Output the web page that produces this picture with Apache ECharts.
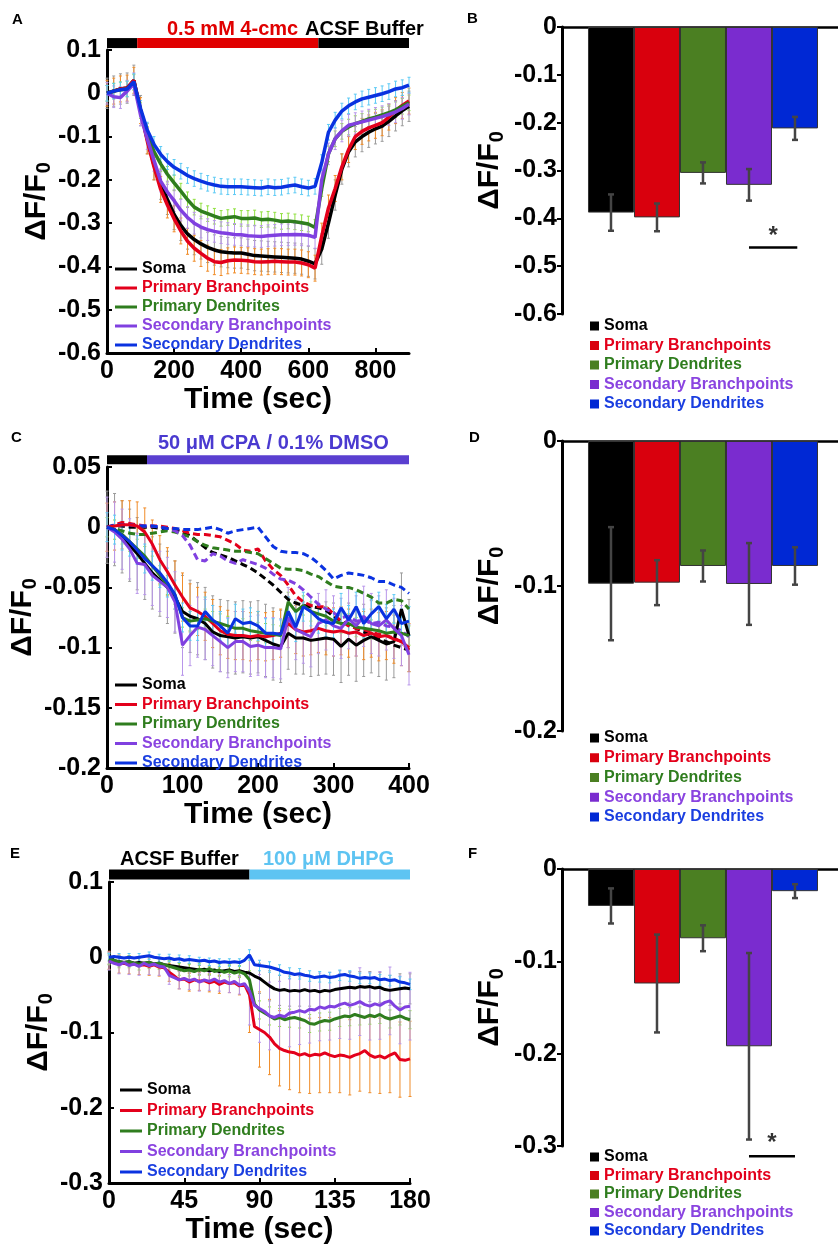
<!DOCTYPE html>
<html>
<head>
<meta charset="utf-8">
<script src="https://cdn.jsdelivr.net/npm/echarts@6/dist/echarts.min.js"></script>
<style>
html, body { margin: 0; background: #fff; }
#content { width: 838px; height: 1246px; }
</style>
</head>
<body>
<div id="content"></div>
<script>
// 区域名称
var regions = ["Soma", "Primary Branchpoints", "Primary Dendrites", "Secondary Branchpoints", "Secondary Dendrites"];

// A: 0.5 mM 4-cmc, 每 20 s 一个点
var somaA = [0, 0.005, 0.01, 0.012, 0.03, -0.04, -0.105, -0.165, -0.21, -0.245, -0.28, -0.305, -0.325, -0.338, -0.348, -0.356, -0.362, -0.366, -0.368, -0.369, -0.369, -0.372, -0.375, -0.376, -0.377, -0.378, -0.379, -0.38, -0.381, -0.383, -0.388, -0.394, -0.36, -0.3, -0.235, -0.175, -0.135, -0.112, -0.1, -0.09, -0.082, -0.076, -0.065, -0.052, -0.04, -0.03];
var pbA = [0, 0.005, 0.01, 0.012, 0.03, -0.04, -0.11, -0.17, -0.222, -0.258, -0.29, -0.318, -0.342, -0.358, -0.37, -0.381, -0.389, -0.391, -0.387, -0.385, -0.386, -0.387, -0.389, -0.39, -0.389, -0.388, -0.389, -0.39, -0.39, -0.392, -0.396, -0.404, -0.33, -0.265, -0.22, -0.17, -0.13, -0.1, -0.088, -0.08, -0.074, -0.068, -0.055, -0.04, -0.028, -0.018];
var pdA = [0, 0.005, 0.008, 0.01, 0.025, -0.04, -0.095, -0.135, -0.163, -0.187, -0.207, -0.226, -0.246, -0.263, -0.272, -0.278, -0.284, -0.289, -0.287, -0.285, -0.289, -0.289, -0.288, -0.292, -0.291, -0.293, -0.296, -0.295, -0.297, -0.299, -0.302, -0.31, -0.22, -0.14, -0.105, -0.088, -0.078, -0.07, -0.065, -0.059, -0.055, -0.05, -0.045, -0.038, -0.03, -0.022];
var sbA = [0, -0.008, -0.01, 0.005, 0.022, -0.05, -0.105, -0.155, -0.203, -0.228, -0.248, -0.27, -0.287, -0.3, -0.309, -0.315, -0.319, -0.322, -0.324, -0.326, -0.327, -0.329, -0.33, -0.331, -0.329, -0.328, -0.327, -0.327, -0.326, -0.327, -0.328, -0.333, -0.2, -0.14, -0.105, -0.087, -0.074, -0.07, -0.066, -0.062, -0.058, -0.054, -0.049, -0.043, -0.035, -0.025];
var sdA = [0, 0.005, 0.008, 0.01, 0.027, -0.035, -0.085, -0.118, -0.141, -0.158, -0.171, -0.18, -0.19, -0.197, -0.203, -0.208, -0.212, -0.215, -0.216, -0.216, -0.216, -0.217, -0.218, -0.219, -0.216, -0.218, -0.217, -0.214, -0.212, -0.216, -0.219, -0.215, -0.16, -0.09, -0.062, -0.041, -0.029, -0.02, -0.013, -0.009, -0.005, -0.001, 0.004, 0.01, 0.013, 0.019];
var semA = [0.035, 0.03, 0.018, 0.025, 0.018];

// C: CPA (实线) 与 DMSO (虚线), 每 10 s 一个点
var somaC = [0, -0.002, -0.008, -0.015, -0.022, -0.03, -0.038, -0.044, -0.05, -0.058, -0.07, -0.074, -0.076, -0.08, -0.087, -0.09, -0.091, -0.092, -0.091, -0.092, -0.091, -0.094, -0.097, -0.099, -0.088, -0.092, -0.092, -0.094, -0.093, -0.092, -0.093, -0.099, -0.093, -0.098, -0.094, -0.091, -0.094, -0.097, -0.095, -0.068, -0.09];
var pbC = [0, 0.001, 0.002, 0.002, 0.001, -0.004, -0.014, -0.027, -0.037, -0.048, -0.058, -0.067, -0.07, -0.074, -0.08, -0.086, -0.089, -0.09, -0.09, -0.091, -0.09, -0.091, -0.09, -0.088, -0.08, -0.085, -0.087, -0.086, -0.084, -0.086, -0.087, -0.086, -0.088, -0.087, -0.09, -0.088, -0.091, -0.09, -0.093, -0.095, -0.1];
var pdC = [0, -0.002, -0.006, -0.012, -0.018, -0.024, -0.032, -0.04, -0.048, -0.056, -0.075, -0.078, -0.077, -0.076, -0.078, -0.08, -0.082, -0.084, -0.084, -0.086, -0.087, -0.088, -0.089, -0.09, -0.062, -0.07, -0.065, -0.07, -0.072, -0.074, -0.078, -0.08, -0.08, -0.083, -0.084, -0.085, -0.086, -0.088, -0.087, -0.088, -0.09];
var sbC = [0, -0.004, -0.01, -0.018, -0.03, -0.031, -0.04, -0.045, -0.05, -0.062, -0.098, -0.09, -0.083, -0.085, -0.09, -0.095, -0.1, -0.095, -0.095, -0.099, -0.098, -0.1, -0.1, -0.101, -0.075, -0.085, -0.088, -0.091, -0.08, -0.077, -0.082, -0.084, -0.076, -0.082, -0.074, -0.08, -0.082, -0.077, -0.084, -0.09, -0.106];
var sdC = [0, -0.002, -0.007, -0.012, -0.019, -0.026, -0.032, -0.038, -0.046, -0.056, -0.075, -0.082, -0.082, -0.07, -0.077, -0.082, -0.088, -0.076, -0.08, -0.079, -0.082, -0.088, -0.088, -0.089, -0.07, -0.083, -0.066, -0.07, -0.076, -0.079, -0.08, -0.067, -0.077, -0.066, -0.08, -0.072, -0.066, -0.076, -0.068, -0.08, -0.078];
var somaCd = [0, 0.001, 0.001, 0, 0, 0, 0, -0.001, -0.001, -0.002, -0.004, -0.007, -0.012, -0.017, -0.021, -0.023, -0.025, -0.028, -0.031, -0.034, -0.038, -0.043, -0.048, -0.054, -0.06, -0.063, -0.065, -0.066, -0.067, -0.069, -0.074, -0.078, -0.081, -0.084, -0.087, -0.09, -0.093, -0.095, -0.098, -0.1, -0.102];
var pbCd = [0, 0.002, 0.004, 0.003, 0.002, 0.001, 0.001, 0.001, 0, -0.001, -0.003, -0.005, -0.006, -0.006, -0.007, -0.008, -0.011, -0.014, -0.019, -0.02, -0.018, -0.028, -0.035, -0.04, -0.048, -0.057, -0.062, -0.065, -0.066, -0.066, -0.072, -0.078, -0.082, -0.084, -0.085, -0.087, -0.089, -0.09, -0.092, -0.095, -0.102];
var pdCd = [0, -0.001, -0.003, -0.005, -0.006, -0.006, -0.005, -0.004, -0.003, -0.004, -0.006, -0.008, -0.012, -0.015, -0.017, -0.018, -0.019, -0.02, -0.02, -0.021, -0.022, -0.026, -0.03, -0.034, -0.035, -0.035, -0.036, -0.039, -0.041, -0.045, -0.049, -0.05, -0.05, -0.052, -0.055, -0.058, -0.063, -0.063, -0.06, -0.061, -0.068];
var sbCd = [0, 0.001, 0.002, 0.002, 0.001, 0.001, 0.001, 0, -0.001, -0.003, -0.007, -0.015, -0.027, -0.028, -0.022, -0.024, -0.028, -0.03, -0.027, -0.029, -0.031, -0.034, -0.039, -0.043, -0.044, -0.047, -0.052, -0.058, -0.064, -0.068, -0.071, -0.075, -0.074, -0.078, -0.077, -0.08, -0.079, -0.082, -0.083, -0.086, -0.091];
var sdCd = [0, 0.002, 0.002, 0.002, 0.001, 0.001, 0.001, 0, -0.001, -0.001, -0.002, -0.002, -0.002, -0.001, 0, -0.002, -0.005, -0.003, -0.002, -0.001, 0, -0.008, -0.016, -0.02, -0.021, -0.021, -0.022, -0.025, -0.03, -0.036, -0.043, -0.04, -0.038, -0.039, -0.04, -0.042, -0.045, -0.045, -0.048, -0.05, -0.055];
var semC = [0.03, 0.02, 0.008, 0.025, 0.012];

// E: ACSF -> 100 uM DHPG, 每 3 s 一个点
var somaE = [-0.003, -0.005, -0.006, -0.007, -0.006, -0.008, -0.007, -0.008, -0.007, -0.009, -0.008, -0.01, -0.011, -0.012, -0.013, -0.014, -0.015, -0.016, -0.017, -0.016, -0.018, -0.017, -0.019, -0.018, -0.017, -0.019, -0.018, -0.02, -0.021, -0.025, -0.028, -0.033, -0.038, -0.042, -0.044, -0.043, -0.045, -0.044, -0.045, -0.043, -0.045, -0.044, -0.046, -0.044, -0.045, -0.043, -0.042, -0.041, -0.04, -0.041, -0.039, -0.04, -0.039, -0.041, -0.04, -0.043, -0.044, -0.043, -0.042, -0.041, -0.042];
var pbE = [-0.004, -0.007, -0.009, -0.008, -0.01, -0.009, -0.011, -0.01, -0.012, -0.01, -0.013, -0.014, -0.02, -0.025, -0.03, -0.029, -0.033, -0.03, -0.032, -0.031, -0.034, -0.032, -0.036, -0.033, -0.035, -0.034, -0.038, -0.036, -0.05, -0.092, -0.096, -0.1, -0.106, -0.115, -0.121, -0.124, -0.126, -0.127, -0.13, -0.128, -0.131, -0.129, -0.13, -0.127, -0.13, -0.132, -0.13, -0.131, -0.133, -0.13, -0.128, -0.124, -0.13, -0.133, -0.131, -0.134, -0.13, -0.127, -0.136, -0.137, -0.135];
var pdE = [-0.002, -0.004, -0.006, -0.007, -0.006, -0.008, -0.009, -0.008, -0.007, -0.009, -0.008, -0.01, -0.012, -0.014, -0.016, -0.018, -0.017, -0.019, -0.016, -0.018, -0.015, -0.019, -0.017, -0.02, -0.018, -0.021, -0.019, -0.022, -0.03, -0.062, -0.07, -0.074, -0.078, -0.082, -0.08, -0.083, -0.081, -0.08, -0.082, -0.084, -0.088, -0.089, -0.086, -0.084, -0.085, -0.082, -0.08, -0.078, -0.079, -0.076, -0.078, -0.08, -0.077, -0.079, -0.076, -0.08, -0.082, -0.08, -0.078, -0.081, -0.083];
var sbE = [-0.005, -0.008, -0.01, -0.007, -0.011, -0.009, -0.012, -0.008, -0.011, -0.009, -0.012, -0.013, -0.024, -0.027, -0.03, -0.028, -0.031, -0.029, -0.033, -0.03, -0.032, -0.029, -0.033, -0.031, -0.035, -0.032, -0.037, -0.035, -0.045, -0.064, -0.068, -0.072, -0.078, -0.08, -0.077, -0.079, -0.074, -0.073, -0.071, -0.073, -0.069, -0.07, -0.066, -0.068, -0.065, -0.066, -0.063, -0.061, -0.064, -0.062, -0.059, -0.063, -0.065, -0.062, -0.064, -0.06, -0.058, -0.065, -0.07, -0.066, -0.065];
var sdE = [0, 0.001, 0, -0.001, 0, -0.001, 0, 0.001, 0.002, 0, -0.001, -0.002, -0.001, -0.003, -0.002, -0.004, -0.003, -0.004, -0.005, -0.004, -0.006, -0.005, -0.007, -0.006, -0.007, -0.006, -0.007, -0.004, 0.003, -0.01, -0.011, -0.012, -0.013, -0.015, -0.017, -0.02, -0.021, -0.023, -0.022, -0.024, -0.025, -0.027, -0.026, -0.025, -0.027, -0.026, -0.024, -0.023, -0.025, -0.026, -0.028, -0.027, -0.028, -0.027, -0.03, -0.029, -0.031, -0.03, -0.033, -0.034, -0.036];
var semEpre = [0.006, 0.012, 0.008, 0.012, 0.005];
var semEpost = [0.02, 0.05, 0.012, 0.045, 0.007];

// B / D / F: 平均值与误差
var meanB = [-0.388, -0.398, -0.305, -0.33, -0.212];
var errB = [0.038, 0.029, 0.022, 0.033, 0.024];
var meanD = [-0.0984, -0.0977, -0.0862, -0.0986, -0.0862];
var errD = [0.039, 0.0155, 0.0107, 0.0282, 0.0129];
var meanF = [-0.04, -0.124, -0.075, -0.192, -0.024];
var errF = [0.019, 0.053, 0.014, 0.101, 0.0075];

// 给药时段
var stimA = [0, 90, 630, 900];
var stimC = [0, 53, 400];
var stimE = [0, 84, 180];

var FONT = "'Liberation Sans', Arial, sans-serif";
var lineColors = ["#000000", "#e3001b", "#2f7d1e", "#8040e0", "#0a32e0"];
var textColors = ["#000000", "#e3001b", "#2f7d1e", "#8a44e0", "#1a3ee0"];
var barColors = ["#000000", "#d9000d", "#4b7f22", "#7a2ccf", "#0028d4"];
var errColors = ["#9a9a9a", "#f08c28", "#90e040", "#b896ea", "#5ccaf5"];

function range(a, b, s) {
    var r = [];
    for (var v = a; v <= b + 1e-9; v += s) r.push(v);
    return r;
}
var timeA = range(0, 900, 20);
var timeC = range(0, 400, 10);
var timeE = range(0, 180, 3);

function pairs(xs, ys) {
    return xs.map(function(t, i) { return [t, ys[i]]; });
}

function errRender(color, lw, cap) {
    return function(params, api) {
        var x = api.value(0);
        var lo = api.coord([x, api.value(1)]);
        var hi = api.coord([x, api.value(2)]);
        var st = { stroke: color, lineWidth: lw };
        return {
            type: "group",
            children: [
                { type: "line", shape: { x1: lo[0], y1: lo[1], x2: hi[0], y2: hi[1] }, style: st },
                { type: "line", shape: { x1: lo[0] - cap, y1: lo[1], x2: lo[0] + cap, y2: lo[1] }, style: st },
                { type: "line", shape: { x1: hi[0] - cap, y1: hi[1], x2: hi[0] + cap, y2: hi[1] }, style: st }
            ]
        };
    };
}

function errSeries(g, data, color, lw, cap) {
    return {
        type: "custom", xAxisIndex: g, yAxisIndex: g, silent: true, z: 1,
        data: data, encode: { x: 0, y: [1, 2] },
        renderItem: errRender(color, lw, cap)
    };
}

function lineSeries(g, name, xs, ys, color, width, dashed) {
    return {
        type: "line", name: name, xAxisIndex: g, yAxisIndex: g, z: 3,
        data: pairs(xs, ys), showSymbol: false, symbol: "none",
        lineStyle: { color: color, width: width, type: dashed ? [7, 4] : "solid" },
        itemStyle: { color: color }
    };
}

function stimSeries(g, times, colors, y, width) {
    var out = [];
    for (var i = 0; i < times.length - 1; i++) {
        out.push({
            type: "line", xAxisIndex: g, yAxisIndex: g, clip: false, silent: true, z: 5,
            data: [[times[i], y], [times[i + 1], y]], showSymbol: false, symbol: "none",
            lineStyle: { color: colors[i], width: width, cap: "butt" }
        });
    }
    return out;
}

var labelStyle = { color: "#000", fontSize: 25, fontWeight: "bold", fontFamily: FONT };

function yName(gap) {
    return {
        name: "{a|ΔF/F}{b|0}",
        nameLocation: "middle", nameRotate: 90, nameGap: gap,
        nameTextStyle: {
            rich: {
                a: { fontSize: 30, fontWeight: "bold", fontFamily: FONT, color: "#000", verticalAlign: "top", lineHeight: 32 },
                b: { fontSize: 20, fontWeight: "bold", fontFamily: FONT, color: "#000", verticalAlign: "bottom", lineHeight: 20, padding: [18, 0, 0, 1] }
            }
        }
    };
}

function lineY(g, min, max, interval) {
    return Object.assign({
        gridIndex: g, type: "value", min: min, max: max, interval: interval,
        axisLine: { show: true, onZero: false, lineStyle: { color: "#000", width: 3 } },
        axisTick: { show: true, inside: true, length: 5, lineStyle: { color: "#000", width: 2 } },
        axisLabel: Object.assign({ margin: 6 }, labelStyle),
        splitLine: { show: false }
    }, yName(50));
}

function lineX(g, max, interval) {
    return {
        gridIndex: g, type: "value", min: 0, max: max, interval: interval,
        name: "Time (sec)", nameLocation: "middle", nameGap: 30,
        nameTextStyle: { color: "#000", fontSize: 30, fontWeight: "bold", fontFamily: FONT },
        axisLine: { show: true, onZero: false, lineStyle: { color: "#000", width: 3 } },
        axisTick: { show: true, inside: true, length: 5, lineStyle: { color: "#000", width: 2 } },
        axisLabel: Object.assign({ margin: 6, showMaxLabel: max % interval === 0 }, labelStyle),
        splitLine: { show: false }
    };
}

function barY(g, min) {
    return Object.assign({
        gridIndex: g, type: "value", min: min, max: 0, interval: 0.1,
        axisLine: { show: true, onZero: false, lineStyle: { color: "#000", width: 3 } },
        axisTick: { show: true, inside: false, length: 5, lineStyle: { color: "#000", width: 2 } },
        axisLabel: Object.assign({ margin: 5 }, labelStyle),
        splitLine: { show: false }
    }, yName(55));
}

function barX(g) {
    return {
        gridIndex: g, type: "value", min: -1.065, max: 4.935,
        axisLine: { show: true, onZero: true, lineStyle: { color: "#000", width: 2.5 } },
        axisTick: { show: false }, axisLabel: { show: false }, splitLine: { show: false }
    };
}

function lineLegend(left, top, gap) {
    return {
        orient: "vertical", left: left, top: top, icon: "rect",
        itemWidth: 22, itemHeight: 3, itemGap: gap, selectedMode: false,
        textStyle: { fontSize: 16, fontWeight: "bold", fontFamily: FONT },
        data: regions.map(function(r, i) {
            return { name: r, itemStyle: { color: lineColors[i] }, textStyle: { color: textColors[i] } };
        })
    };
}

function barLegend(left, top, gap) {
    return {
        orient: "vertical", left: left, top: top, icon: "rect",
        itemWidth: 9, itemHeight: 9, itemGap: gap, selectedMode: false,
        textStyle: { fontSize: 16, fontWeight: "bold", fontFamily: FONT },
        data: regions.map(function(r, i) {
            return { name: r, itemStyle: { color: barColors[i] }, textStyle: { color: textColors[i] } };
        })
    };
}

function barPanel(g, means, errs) {
    var out = [];
    means.forEach(function(v, i) {
        out.push({
            type: "bar", name: regions[i], xAxisIndex: g, yAxisIndex: g, stack: "s" + g,
            barWidth: 46, data: [[i, v]],
            itemStyle: { color: barColors[i], borderColor: "#333", borderWidth: 1 }
        });
    });
    out.push(errSeries(g, means.map(function(v, i) { return [i, v - errs[i], v + errs[i]]; }), "#444", 2.5, 3));
    out[out.length - 1].z = 4;
    return out;
}

function sigSeries(g, x0, x1, y, ys) {
    return [{
        type: "line", xAxisIndex: g, yAxisIndex: g, clip: false, silent: true, z: 5,
        data: [[x0, y], [x1, y]], showSymbol: false, symbol: "none",
        lineStyle: { color: "#000", width: 2.5 }
    }, {
        type: "scatter", xAxisIndex: g, yAxisIndex: g, clip: false, silent: true, z: 5,
        data: [[(x0 + x1) / 2, ys]], symbolSize: 1, itemStyle: { color: "rgba(0,0,0,0)" },
        label: { show: true, position: "inside", formatter: "*", color: "#000", fontSize: 24, fontWeight: "bold", fontFamily: FONT }
    }];
}

var series = [];
var seriesA = [somaA, pbA, pdA, sbA, sdA];
var seriesC = [somaC, pbC, pdC, sbC, sdC];
var seriesCd = [somaCd, pbCd, pdCd, sbCd, sdCd];
var seriesE = [somaE, pbE, pdE, sbE, sdE];

// A
seriesA.forEach(function(ys, i) {
    series.push(errSeries(0, ys.map(function(v, k) { return [timeA[k], v - semA[i], v + semA[i]]; }), errColors[i], 1, 1.5));
});
seriesA.forEach(function(ys, i) {
    series.push(lineSeries(0, regions[i], timeA, ys, lineColors[i], 3.5, false));
});
series = series.concat(stimSeries(0, stimA, ["#000", "#e00000", "#000"], 0.116, 10));

// B
series = series.concat(barPanel(1, meanB, errB));
series = series.concat(sigSeries(1, 3, 4.05, -0.461, -0.437));

// C
seriesC.forEach(function(ys, i) {
    series.push(errSeries(2, ys.map(function(v, k) { return [timeC[k], v - semC[i], v + semC[i]]; }), errColors[i], 1, 1.5));
});
seriesCd.forEach(function(ys, i) {
    series.push(lineSeries(2, regions[i] + " (DMSO)", timeC, ys, lineColors[i], 3, true));
});
seriesC.forEach(function(ys, i) {
    series.push(lineSeries(2, regions[i], timeC, ys, lineColors[i], 3, false));
});
series = series.concat(stimSeries(2, stimC, ["#000", "#5a3fd0"], 0.056, 9));

// D
series = series.concat(barPanel(3, meanD, errD));

// E
seriesE.forEach(function(ys, i) {
    var d = [];
    ys.forEach(function(v, k) {
        if (k % 2 === 0) {
            var s = timeE[k] < 84 ? semEpre[i] : semEpost[i];
            d.push([timeE[k], v - s, v + s]);
        }
    });
    series.push(errSeries(4, d, errColors[i], 1, 1.5));
});
seriesE.forEach(function(ys, i) {
    series.push(lineSeries(4, regions[i], timeE, ys, lineColors[i], 3, false));
});
series = series.concat(stimSeries(4, stimE, ["#000", "#5ec4f2"], 0.11, 10));

// F
series = series.concat(barPanel(5, meanF, errF));
series = series.concat(sigSeries(5, 3, 4.0, -0.311, -0.297));

function letter(t, x, y) {
    return { type: "text", left: x, top: y, style: { text: t, fill: "#000", font: "bold 15px " + FONT } };
}
function topText(t, x, y, color) {
    return { type: "text", left: x, top: y, style: { text: t, fill: color, font: "bold 20px " + FONT } };
}

var myChart = echarts.init(document.getElementById("content"), null, { renderer: "canvas" });
myChart.setOption({
    animation: false,
    backgroundColor: "#fff",
    grid: [
        { left: 107, top: 50, width: 302, height: 303 },
        { left: 562, top: 27, width: 276, height: 287 },
        { left: 107, top: 467, width: 302, height: 301 },
        { left: 562, top: 441, width: 276, height: 290 },
        { left: 109, top: 882, width: 301, height: 301 },
        { left: 562, top: 869, width: 276, height: 277 }
    ],
    xAxis: [lineX(0, 900, 200), barX(1), lineX(2, 400, 100), barX(3), lineX(4, 180, 45), barX(5)],
    yAxis: [lineY(0, -0.6, 0.1, 0.1), barY(1, -0.6), lineY(2, -0.2, 0.05, 0.05), barY(3, -0.2), lineY(4, -0.3, 0.1, 0.1), barY(5, -0.3)],
    legend: [
        lineLegend(110, 256, 3),
        barLegend(585, 313, 3.5),
        lineLegend(110, 672, 3.5),
        barLegend(585, 725, 3.75),
        lineLegend(115, 1077, 4.5),
        barLegend(585, 1144, 2.5)
    ],
    graphic: [
        letter("A", 12, 12), letter("B", 467, 11), letter("C", 11, 430),
        letter("D", 469, 430), letter("E", 10, 846), letter("F", 468, 846),
        topText("0.5 mM 4-cmc", 167, 19, "#e00000"),
        topText("ACSF Buffer", 305, 19, "#000"),
        topText("50 μM CPA / 0.1% DMSO", 158, 433, "#4a3ad0"),
        topText("ACSF Buffer", 120, 849, "#000"),
        topText("100 μM DHPG", 263, 849, "#5ec4f2")
    ],
    series: series
});
</script>
</body>
</html>
